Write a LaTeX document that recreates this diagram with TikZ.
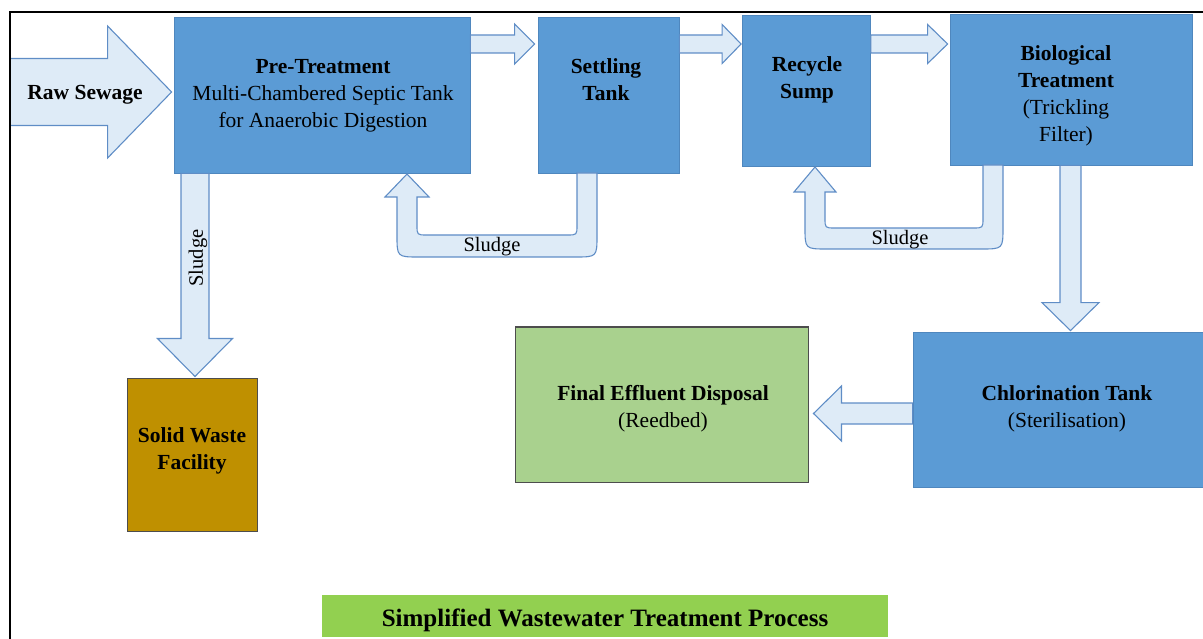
\documentclass[tikz,border=0pt]{standalone}
\usepackage{fontspec}
\setmainfont{Liberation Serif}
\usetikzlibrary{calc}

\definecolor{boxblue}{HTML}{5B9BD5}
\definecolor{boxedge}{HTML}{4F87BE}
\definecolor{arrowfill}{HTML}{DEEBF7}
\definecolor{arrowedge}{HTML}{5F8DC6}
\definecolor{wastegold}{HTML}{BF9000}
\definecolor{reedgreen}{HTML}{A9D18E}
\definecolor{titlegreen}{HTML}{92D050}
\definecolor{darkedge}{HTML}{4D4D4D}

\tikzset{
  procbox/.style={draw=boxedge, fill=boxblue, line width=0.8pt, inner sep=0pt},
  wastebox/.style={draw=darkedge, fill=wastegold, line width=1pt, inner sep=0pt},
  reedbox/.style={draw=darkedge, fill=reedgreen, line width=1pt, inner sep=0pt},
  titlebar/.style={fill=titlegreen, inner sep=0pt},
  flowarrow/.style={draw=arrowedge, fill=arrowfill, line width=1.1pt, line join=miter},
  boxtext/.style={font=\fontsize{21.5}{27}\selectfont, align=center, inner sep=0pt},
  lbl/.style={font=\fontsize{20.5}{24}\selectfont, inner sep=0pt},
  titletext/.style={font=\fontsize{25}{30}\selectfont\bfseries, inner sep=0pt},
}

% straight block arrow: #1 tail, #2 tip, #3 shaft half-width,
% #4 head half-width, #5 head length
\newcommand{\blockarrow}[5]{%
  \coordinate (bahead) at ($(#2)!#5!(#1)$);
  \draw[flowarrow] ($(#1)!#3!90:(#2)$) -- ($(bahead)!#3!90:(#2)$)
    -- ($(bahead)!#4!90:(#2)$) -- (#2) -- ($(bahead)!#4!-90:(#2)$)
    -- ($(bahead)!#3!-90:(#2)$) -- ($(#1)!#3!-90:(#2)$) -- cycle;
}

\begin{document}
\begin{tikzpicture}[x=1pt,y=-1pt]
\useasboundingbox (0,0) rectangle (1203,639);

% process boxes
\node[procbox, minimum width=296pt, minimum height=156pt] (pre) at (322,95) {};
\node[procbox, minimum width=141pt, minimum height=156pt] (settle) at (608.5,95) {};
\node[procbox, minimum width=128pt, minimum height=151pt] (recyc) at (806.5,90.5) {};
\node[procbox, minimum width=242pt, minimum height=151pt] (bio) at (1071,89.5) {};
\node[procbox, minimum width=293pt, minimum height=155pt] (chlor) at (1059.5,409.5) {};
\node[reedbox, minimum width=293pt, minimum height=155pt] (final) at (662,404.5) {};
\node[wastebox, minimum width=130pt, minimum height=153pt] (solid) at (192,454.5) {};
\node[titlebar, minimum width=566pt, minimum height=42pt] (title) at (605,616) {};

% flow arrows between the units
\coordinate (rawtail) at (10,92);
\coordinate (rawtip) at ($(pre.west)+(-2,-3)$);
\blockarrow{rawtail}{rawtip}{33.5pt}{66pt}{64pt}

\coordinate (a1tail) at ($(pre.east)+(0,-51)$);
\coordinate (a1tip) at ($(settle.west)+(-3,-51)$);
\blockarrow{a1tail}{a1tip}{9pt}{20pt}{20pt}

\coordinate (a2tail) at ($(settle.east)+(0,-51)$);
\coordinate (a2tip) at ($(recyc.west)+(-1,-46.5)$);
\blockarrow{a2tail}{a2tip}{9pt}{19.5pt}{19pt}

\coordinate (a3tail) at ($(recyc.east)+(0,-46.5)$);
\coordinate (a3tip) at ($(bio.west)+(-2,-45.5)$);
\blockarrow{a3tail}{a3tip}{9pt}{19.5pt}{20pt}

\coordinate (a4tail) at ($(pre.south)+(-127,0)$);
\coordinate (a4tip) at ($(solid.north)+(3,-1)$);
\blockarrow{a4tail}{a4tip}{14pt}{37.5pt}{38pt}

\coordinate (a5tail) at ($(bio.south)+(-0.5,0)$);
\coordinate (a5tip) at ($(chlor.north)+(11,-1)$);
\blockarrow{a5tail}{a5tip}{10.5pt}{28.5pt}{28pt}

\coordinate (a6tail) at ($(chlor.west)+(0,4)$);
\coordinate (a6tip) at ($(final.east)+(4.5,9)$);
\blockarrow{a6tail}{a6tip}{10.5pt}{27.5pt}{28pt}

% sludge return from the settling tank
\draw[flowarrow] (597,173) -- (597,235) .. controls (597,257) .. (575,257)
  -- (419,257) .. controls (397,257) .. (397,235) -- (397,197) -- (385,197)
  -- (407,174) -- (429,197) -- (417,197) -- (417,225)
  .. controls (417,235) .. (427,235) -- (567,235)
  .. controls (577,235) .. (577,225) -- (577,173) -- cycle;

% sludge return from the trickling filter
\draw[flowarrow] (1003,165) -- (1003,227) .. controls (1003,249) .. (981,249)
  -- (827,249) .. controls (805,249) .. (805,227) -- (805,192) -- (794,192)
  -- (815,167) -- (836,192) -- (825,192) -- (825,218)
  .. controls (825,228) .. (835,228) -- (973,228)
  .. controls (983,228) .. (983,218) -- (983,165) -- cycle;

% box texts
\node[boxtext] (rawtext) at (85,95) {\textbf{Raw Sewage}};
\node[boxtext] (pretext) at (323,96) {\textbf{Pre-Treatment}\\Multi-Chambered Septic Tank\\for Anaerobic Digestion};
\node[boxtext] (settletext) at (606,80) {\textbf{Settling}\\\textbf{Tank}};
\node[boxtext] (recyctext) at (807,79.5) {\textbf{Recycle}\\\textbf{Sump}};
\node[boxtext] (biotext) at (1066,96) {\textbf{Biological}\\\textbf{Treatment}\\(Trickling\\Filter)};
\node[boxtext] (chlortext) at (1067,409) {\textbf{Chlorination Tank}\\(Sterilisation)};
\node[boxtext] (finaltext) at (663,409) {\textbf{Final Effluent Disposal}\\(Reedbed)};
\node[boxtext] (solidtext) at (192,451) {\textbf{Solid Waste}\\\textbf{Facility}};
\node[titletext] (titletxt) at (605,620) {Simplified Wastewater Treatment Process};

% sludge labels
\node[lbl] (sl1) at (492,247) {Sludge};
\node[lbl] (sl2) at (900,240) {Sludge};
\node[lbl, rotate=90] (sl3) at (198,258) {Sludge};

% frame
\draw[line width=2.5pt] (1206,12) -- (10,12) -- (10,642);
\end{tikzpicture}
\end{document}
